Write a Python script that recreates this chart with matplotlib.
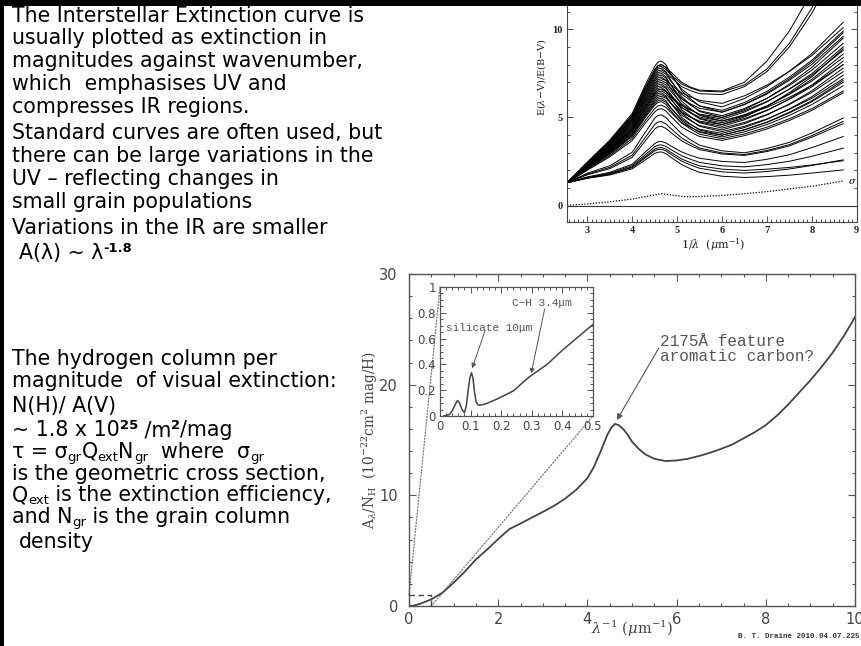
import matplotlib
matplotlib.use("Agg")
import matplotlib.pyplot as plt
from matplotlib.patches import Rectangle, ConnectionPatch
from matplotlib.ticker import MultipleLocator, FuncFormatter

plt.rcParams['mathtext.fontset'] = 'dejavuserif'

W, H = 861, 646
DPI = 100

# ---------------------------------------------------------------- data
# top-right panel: E(lambda-V)/E(B-V) curves, sampled at these wavenumbers
curve_x = [2.55, 3.0, 3.5, 4.0, 4.3, 4.5, 4.57, 4.65, 4.75, 4.85, 5.1, 5.3, 5.5,
           6.0, 6.5, 7.0, 7.5, 8.0, 8.7]

band_curves = [
    [1.3, 2.47, 3.72, 5.23, 6.89, 7.89, 8.13, 8.2, 8.0, 7.53, 6.52, 6.05, 5.65, 5.3, 5.73, 6.33, 7.11, 8.01, 9.6],
    [1.3, 2.44, 3.65, 5.12, 6.73, 7.70, 7.93, 8.0, 7.83, 7.45, 6.61, 6.22, 5.89, 5.6, 6.08, 6.75, 7.62, 8.62, 10.4],
    [1.3, 2.41, 3.58, 5.01, 6.57, 7.51, 7.74, 7.8, 7.6, 7.16, 6.18, 5.73, 5.34, 5.0, 5.38, 5.91, 6.60, 7.39, 8.8],
    [1.3, 2.37, 3.51, 4.89, 6.40, 7.32, 7.54, 7.6, 7.45, 7.09, 6.32, 5.97, 5.66, 5.4, 5.85, 6.48, 7.29, 8.24, 9.9],
    [1.3, 2.35, 3.47, 4.83, 6.32, 7.22, 7.44, 7.5, 7.31, 6.88, 5.93, 5.5, 5.12, 4.8, 5.16, 5.66, 6.31, 7.07, 8.4],
    [1.3, 2.34, 3.44, 4.78, 6.24, 7.13, 7.34, 7.4, 7.24, 6.87, 6.07, 5.7, 5.38, 5.1, 5.51, 6.08, 6.82, 7.68, 9.2],
    [1.3, 2.32, 3.40, 4.72, 6.16, 7.03, 7.24, 7.3, 7.11, 6.68, 5.73, 5.3, 4.92, 4.6, 4.94, 5.42, 6.03, 6.74, 8.0],
    [1.3, 2.30, 3.37, 4.66, 6.08, 6.93, 7.14, 7.2, 7.1, 6.88, 6.39, 6.16, 5.97, 5.8, 6.23, 6.83, 7.61, 8.51, 10.1],
    [1.3, 2.29, 3.33, 4.61, 6.00, 6.84, 7.04, 7.1, 6.97, 6.69, 6.06, 5.77, 5.52, 5.3, 5.75, 6.38, 7.19, 8.14, 9.8],
    [1.3, 2.27, 3.30, 4.55, 5.92, 6.74, 6.94, 7.0, 6.85, 6.52, 5.78, 5.45, 5.15, 4.9, 5.31, 5.88, 6.62, 7.48, 9.0],
    [1.3, 2.25, 3.26, 4.49, 5.84, 6.65, 6.84, 6.9, 6.72, 6.33, 5.45, 5.05, 4.70, 4.4, 4.72, 5.17, 5.74, 6.42, 7.6],
    [1.3, 2.24, 3.23, 4.44, 5.76, 6.55, 6.75, 6.8, 6.65, 6.32, 5.58, 5.25, 4.95, 4.7, 5.09, 5.64, 6.34, 7.16, 8.6],
    [1.3, 2.22, 3.19, 4.38, 5.67, 6.46, 6.65, 6.7, 6.52, 6.13, 5.25, 4.85, 4.50, 4.2, 4.50, 4.92, 5.46, 6.09, 7.2],
    [1.3, 2.20, 3.16, 4.32, 5.59, 6.36, 6.55, 6.6, 6.49, 6.23, 5.67, 5.42, 5.19, 5.0, 5.45, 6.08, 6.89, 7.84, 9.5],
    [1.3, 2.20, 3.16, 4.32, 5.59, 6.36, 6.55, 6.6, 6.47, 6.19, 5.56, 5.27, 5.02, 4.8, 5.12, 5.57, 6.14, 6.82, 8.0],
    [1.3, 2.18, 3.12, 4.26, 5.51, 6.27, 6.45, 6.5, 6.36, 6.04, 5.34, 5.02, 4.74, 4.5, 4.87, 5.39, 6.05, 6.83, 8.2],
    [1.3, 2.17, 3.09, 4.21, 5.43, 6.17, 6.35, 6.4, 6.23, 5.85, 5.01, 4.62, 4.29, 4.0, 4.30, 4.72, 5.26, 5.89, 7.0],
    [1.3, 2.15, 3.05, 4.15, 5.35, 6.08, 6.25, 6.3, 6.16, 5.84, 5.14, 4.82, 4.54, 4.3, 4.65, 5.14, 5.77, 6.51, 7.8],
    [1.3, 2.13, 3.02, 4.09, 5.27, 5.98, 6.15, 6.2, 6.09, 5.83, 5.27, 5.02, 4.79, 4.6, 5.03, 5.63, 6.41, 7.31, 8.9],
    [1.3, 2.12, 2.98, 4.04, 5.19, 5.88, 6.05, 6.1, 5.95, 5.59, 4.82, 4.47, 4.16, 3.9, 4.19, 4.60, 5.12, 5.73, 6.8],
    [1.3, 2.10, 2.95, 3.98, 5.11, 5.79, 5.95, 6.0, 5.87, 5.56, 4.90, 4.59, 4.33, 4.1, 4.43, 4.89, 5.49, 6.18, 7.4],
    [1.3, 2.08, 2.91, 3.92, 5.03, 5.69, 5.85, 5.9, 5.75, 5.42, 4.68, 4.35, 4.05, 3.8, 4.07, 4.45, 4.93, 5.50, 6.5],
    [1.3, 2.05, 2.84, 3.81, 4.86, 5.50, 5.66, 5.7, 5.58, 5.31, 4.71, 4.44, 4.20, 4.0, 4.31, 4.74, 5.30, 5.95, 7.1],
    [1.3, 2.01, 2.77, 3.69, 4.70, 5.31, 5.46, 5.5, 5.37, 5.09, 4.46, 4.17, 3.92, 3.7, 3.97, 4.35, 4.83, 5.40, 6.4],
]

low_curves = [
    [1.3, 1.84, 2.26, 3.03, 4.19, 4.96, 5.11, 5.15, 5.0, 4.72, 4.08, 3.73, 3.43, 3.11, 3.0, 3.24, 3.59, 4.12, 4.97],
    [1.3, 1.79, 2.17, 2.86, 3.90, 4.60, 4.74, 4.77, 4.64, 4.40, 3.84, 3.54, 3.27, 2.99, 2.9, 3.13, 3.46, 3.97, 4.78],
    [1.3, 1.75, 2.10, 2.74, 3.70, 4.34, 4.47, 4.5, 4.38, 4.17, 3.68, 3.41, 3.18, 2.93, 2.85, 3.07, 3.39, 3.88, 4.65],
    [1.3, 1.63, 1.89, 2.35, 3.06, 3.52, 3.62, 3.64, 3.56, 3.40, 3.05, 2.85, 2.69, 2.51, 2.45, 2.63, 2.89, 3.29, 3.92],
    [1.3, 1.60, 1.84, 2.27, 2.91, 3.34, 3.43, 3.45, 3.36, 3.20, 2.83, 2.63, 2.45, 2.26, 2.2, 2.33, 2.52, 2.80, 3.26],
    [1.3, 1.58, 1.80, 2.20, 2.80, 3.20, 3.28, 3.3, 3.21, 3.04, 2.65, 2.44, 2.26, 2.07, 2.0, 2.07, 2.17, 2.31, 2.55],
    [1.3, 1.57, 1.78, 2.16, 2.73, 3.11, 3.18, 3.2, 3.11, 2.93, 2.53, 2.31, 2.12, 1.92, 1.85, 1.94, 2.08, 2.28, 2.6],
    [1.3, 1.55, 1.74, 2.09, 2.61, 2.96, 3.03, 3.05, 2.95, 2.76, 2.33, 2.09, 1.89, 1.67, 1.6, 1.65, 1.73, 1.85, 2.03],
]

steep_curves = [
    [1.3, 2.44, 3.65, 5.12, 6.73, 7.70, 7.93, 8.0, 7.85, 7.6, 7.0, 6.72, 6.55, 6.5, 7.0, 8.2, 9.9, 12.1, 15.5],
    [1.3, 2.39, 3.54, 4.95, 6.48, 7.41, 7.64, 7.7, 7.55, 7.3, 6.75, 6.52, 6.35, 6.3, 6.75, 7.6, 9.0, 10.9, 14.2],
    [1.3, 2.42, 3.61, 5.06, 6.65, 7.60, 7.84, 7.9, 7.72, 7.45, 6.9, 6.67, 6.5, 6.45, 6.85, 7.75, 9.2, 11.2, 14.6],
]

sigma_x = [2.55, 3.0, 3.5, 4.0, 4.3, 4.65, 4.9, 5.2, 5.5, 6.0, 6.5, 7.0, 7.5, 8.0, 8.7]
sigma_y = [0.02, 0.1, 0.22, 0.38, 0.52, 0.68, 0.6, 0.5, 0.52, 0.58, 0.68, 0.8, 0.95, 1.1, 1.4]

top_xticks = [3, 4, 5, 6, 7, 8, 9]
top_yticks = [0, 5, 10]

# bottom-right panel: A_lambda / N_H versus inverse wavelength
main_x = [0, 0.1, 0.25, 0.5, 0.75, 1.0, 1.25, 1.5, 1.75, 2.0, 2.25, 2.5, 2.75, 3.0, 3.25,
          3.5, 3.75, 4.0, 4.15, 4.3, 4.45, 4.55, 4.62, 4.7, 4.8, 4.9, 5.0, 5.15, 5.3, 5.5,
          5.75, 6.0, 6.25, 6.5, 6.75, 7.0, 7.25, 7.5, 7.75, 8.0, 8.25, 8.5, 8.75, 9.0,
          9.25, 9.5, 9.75, 10.0]
main_y = [0.0, 0.03, 0.2, 0.6, 1.2, 2.1, 3.1, 4.2, 5.1, 6.05, 6.95, 7.45, 7.98, 8.5, 9.05,
          9.7, 10.5, 11.55, 12.6, 14.0, 15.5, 16.2, 16.45, 16.35, 16.0, 15.5, 14.85, 14.2,
          13.7, 13.3, 13.1, 13.15, 13.3, 13.55, 13.85, 14.2, 14.6, 15.15, 15.7, 16.35,
          17.2, 18.2, 19.3, 20.4, 21.6, 22.9, 24.4, 26.1]
main_xticks = [0, 2, 4, 6, 8, 10]
main_yticks = [0, 10, 20, 30]

inset_x = [0.012, 0.03, 0.04, 0.05, 0.057, 0.064, 0.072, 0.08, 0.086, 0.092, 0.098, 0.103,
           0.108, 0.113, 0.118, 0.125, 0.135, 0.15, 0.185, 0.24, 0.29, 0.35, 0.40, 0.45, 0.5]
inset_y = [0.0, 0.01, 0.04, 0.09, 0.12, 0.10, 0.05, 0.025, 0.08, 0.2, 0.3, 0.335, 0.29, 0.18,
           0.11, 0.085, 0.085, 0.095, 0.13, 0.195, 0.30, 0.40, 0.51, 0.61, 0.71]
inset_xticks = [0, 0.1, 0.2, 0.3, 0.4, 0.5]
inset_yticks = [0, 0.2, 0.4, 0.6, 0.8, 1]

zoom_box_x = [0, 0.5]
zoom_box_y = [0, 1]

# slide text
para_text = [
    [("The Interstellar Extinction curve is", 'n')],
    [("usually plotted as extinction in", 'n')],
    [("magnitudes against wavenumber,", 'n')],
    [("which  emphasises UV and", 'n')],
    [("compresses IR regions.", 'n')],
    [("Standard curves are often used, but", 'n')],
    [("there can be large variations in the", 'n')],
    [("UV \u2013 reflecting changes in", 'n')],
    [("small grain populations", 'n')],
    [("Variations in the IR are smaller", 'n')],
    [("A(\u03bb) ~ \u03bb", 'n'), ("-1.8", 'supb')],
    [("The hydrogen column per", 'n')],
    [("magnitude  of visual extinction:", 'n')],
    [("N(H)/ A(V)", 'n')],
    [("~ 1.8 x 10", 'n'), ("25", 'supb'), (" /m", 'n'), ("2", 'supb'), ("/mag", 'n')],
    [("\u03c4 = \u03c3", 'n'), ("gr", 'sub'), ("Q", 'n'), ("ext", 'sub'), ("N", 'n'),
     ("gr", 'sub'), ("  where  \u03c3", 'n'), ("gr", 'sub')],
    [("is the geometric cross section,", 'n')],
    [("Q", 'n'), ("ext", 'sub'), (" is the extinction efficiency,", 'n')],
    [("and N", 'n'), ("gr", 'sub'), (" is the grain column", 'n')],
    [("density", 'n')],
]
para_x = [12, 12, 12, 12, 12, 12, 12, 12, 12, 12, 19,
          12, 12, 12, 12, 12, 12, 12, 12, 19]
para_baseline = [22, 44, 67, 90, 113, 139, 162, 185, 208, 234, 259,
                 365, 387, 412, 436, 458, 480, 501, 523, 548]

# ---------------------------------------------------------------- figure
fig = plt.figure(figsize=(W / DPI, H / DPI), dpi=DPI)
fig.patch.set_facecolor('white')
renderer = fig.canvas.get_renderer()


def add_axes_px(left, top, right, bottom):
    return fig.add_axes([left / W, 1 - bottom / H, (right - left) / W, (bottom - top) / H])


MONO = ['Liberation Mono', 'DejaVu Sans Mono']
SERIF = ['DejaVu Serif']

# ---------------- top-right panel
axt = add_axes_px(567.1, 3, 856.7, 222)
for c in band_curves + low_curves + steep_curves:
    axt.plot(curve_x, c, color='black', lw=0.7, solid_joinstyle='round')
axt.plot(sigma_x, sigma_y, color='black', lw=0.9, ls=(0, (1, 1.3)))
axt.axhline(0, color='#333', lw=0.8)
axt.set_xlim(2.55, 9.0)
axt.set_ylim(-0.924, 11.49)
axt.set_xticks(top_xticks)
axt.set_yticks(top_yticks)
axt.xaxis.set_minor_locator(MultipleLocator(0.1))
axt.yaxis.set_minor_locator(MultipleLocator(1))
axt.tick_params(which='both', direction='in', top=False, right=True, color='#333', width=0.6)
axt.tick_params(which='major', length=4, labelsize=7.5, pad=3, labelcolor='#222')
axt.tick_params(which='minor', length=2)
for lab in axt.get_xticklabels() + axt.get_yticklabels():
    lab.set_family('Liberation Serif')
    lab.set_fontweight('bold')
for s in ['left', 'right', 'bottom']:
    axt.spines[s].set_color('#444')
    axt.spines[s].set_linewidth(0.8)
axt.spines['top'].set_visible(False)
axt.text(8.82, 1.38, '\u03c3', fontsize=7, style='italic', family=SERIF, va='center', ha='left')
fig.text(542 / W, 1 - 77 / H, r'E($\lambda$$-$V)/E(B$-$V)', rotation=90, ha='center',
         va='center', fontsize=7, family=SERIF, color='#222')
fig.text(713 / W, 1 - 245 / H, r'1/$\lambda$  ($\mu$m$^{-1}$)', ha='center', va='center',
         fontsize=8, family=SERIF, color='#222')

# ---------------- bottom-right panel
axm = add_axes_px(409, 274, 855, 606)
axm.plot(main_x, main_y, color='#444', lw=1.3)
axm.plot([zoom_box_x[0], zoom_box_x[1], zoom_box_x[1]],
         [zoom_box_y[1], zoom_box_y[1], zoom_box_y[0]],
         color='#444', lw=1.0, ls=(0, (4, 2.5)))
axm.set_xlim(0, 10)
axm.set_ylim(0, 30)
axm.set_xticks(main_xticks)
axm.set_yticks(main_yticks)
axm.xaxis.set_minor_locator(MultipleLocator(0.5))
axm.yaxis.set_minor_locator(MultipleLocator(2))
axm.tick_params(which='both', direction='in', top=True, right=True, color='#555', width=0.8)
axm.tick_params(which='major', length=5, labelsize=10.5, labelcolor='#444')
axm.tick_params(axis='y', which='major', pad=8)
axm.tick_params(axis='x', which='major', pad=4)
axm.tick_params(which='minor', length=2.5)
for s in axm.spines.values():
    s.set_color('#555')
    s.set_linewidth(1.0)

axm.annotate('', xy=(4.66, 16.8), xytext=(5.6, 23.3),
             arrowprops=dict(arrowstyle='-|>', color='#555', lw=0.8, mutation_scale=9,
                             shrinkA=0, shrinkB=0))
axm.text(5.62, 23.9, '2175\u00c5 feature', fontsize=11.5, family=MONO, color='#555',
         va='center', ha='left')
axm.text(5.62, 22.55, 'aromatic carbon?', fontsize=11.5, family=MONO, color='#555',
         va='center', ha='left')

# inset
axi = add_axes_px(440, 287, 593, 416)
axi.set_zorder(5)
axi.set_facecolor('white')
axi.plot(inset_x, inset_y, color='#444', lw=1.1)
axi.set_xlim(0, 0.5)
axi.set_ylim(0, 1)
axi.set_xticks(inset_xticks)
axi.set_yticks(inset_yticks)
axi.xaxis.set_minor_locator(MultipleLocator(0.02))
axi.yaxis.set_minor_locator(MultipleLocator(0.05))
fmt = FuncFormatter(lambda v, p: '%g' % v)
axi.xaxis.set_major_formatter(fmt)
axi.yaxis.set_major_formatter(fmt)
axi.tick_params(which='both', direction='in', top=True, right=True, color='#555', width=0.7)
axi.tick_params(which='major', length=4, labelsize=8.5, pad=3, labelcolor='#444')
axi.tick_params(which='minor', length=2)
for s in axi.spines.values():
    s.set_color('#555')
    s.set_linewidth(0.9)
axi.text(0.018, 0.685, 'silicate 10\u03bcm', fontsize=8, family=MONO, color='#555',
         va='center', ha='left')
axi.text(0.234, 0.879, 'C\u2212H 3.4\u03bcm', fontsize=8, family=MONO, color='#555',
         va='center', ha='left')
axi.annotate('', xy=(0.105, 0.37), xytext=(0.147, 0.66),
             arrowprops=dict(arrowstyle='-|>', color='#555', lw=0.7, mutation_scale=7,
                             shrinkA=0, shrinkB=0))
axi.annotate('', xy=(0.298, 0.33), xytext=(0.342, 0.83),
             arrowprops=dict(arrowstyle='-|>', color='#555', lw=0.7, mutation_scale=7,
                             shrinkA=0, shrinkB=0))

# dotted connectors between the zoom box and the inset
for xyA, xyB in [((zoom_box_x[0], zoom_box_y[1]), (0, 1)),
                 ((zoom_box_x[1], zoom_box_y[0]), (1, 0))]:
    con = ConnectionPatch(xyA=xyA, coordsA='data', axesA=axm, xyB=xyB,
                          coordsB='axes fraction', axesB=axi, color='#777', lw=0.9,
                          ls=(0, (1, 1.5)))
    axm.add_artist(con)

fig.text(370 / W, 1 - 440 / H, r'A$_\lambda$/N$_{\rm H}$  (10$^{-22}$cm$^2$ mag/H)',
         rotation=90, ha='center', va='center', fontsize=9.8, family=SERIF, color='#444')
fig.text(632 / W, 1 - 629 / H, r'$\lambda^{-1}$ ($\mu$m$^{-1}$)', ha='center', va='center',
         fontsize=10.5, family=SERIF, color='#444')
fig.text(738 / W, 1 - 636 / H, 'B. T. Draine 2010.04.07.225', fontsize=5.4, fontweight='bold',
         family=MONO, va='center', ha='left', color='#333')

# ---------------- slide text
TEXT_FAMILY = ['DejaVu Sans']
TEXT_SIZE = 14.8
EM = TEXT_SIZE * DPI / 72.0


def text_width(s, props):
    t1 = fig.text(0, 0, '|' + s + '|', **props)
    t2 = fig.text(0, 0, '||', **props)
    w = t1.get_window_extent(renderer).width - t2.get_window_extent(renderer).width
    t1.remove()
    t2.remove()
    return w


for parts, x0, yb in zip(para_text, para_x, para_baseline):
    cur = x0
    for s, kind in parts:
        small = kind in ('sup', 'supb', 'sub')
        props = dict(fontsize=TEXT_SIZE * (0.64 if small else 1.0),
                     fontweight='bold' if kind in ('b', 'supb') else 'normal',
                     family=TEXT_FAMILY, color='black')
        dy = {'sup': -0.34, 'supb': -0.34, 'sub': 0.15}.get(kind, 0.0) * EM
        fig.text(cur / W, 1 - (yb + dy) / H, s, ha='left', va='baseline', **props)
        cur += text_width(s, props)

# slide border (top and left)
fig.add_artist(Rectangle((0, 1 - 6 / H), 1, 6 / H, transform=fig.transFigure,
                         facecolor='black', edgecolor='none', zorder=20))
fig.add_artist(Rectangle((0, 0), 4 / W, 1, transform=fig.transFigure,
                         facecolor='black', edgecolor='none', zorder=20))

fig.savefig('out.png', dpi=DPI, facecolor='white')
